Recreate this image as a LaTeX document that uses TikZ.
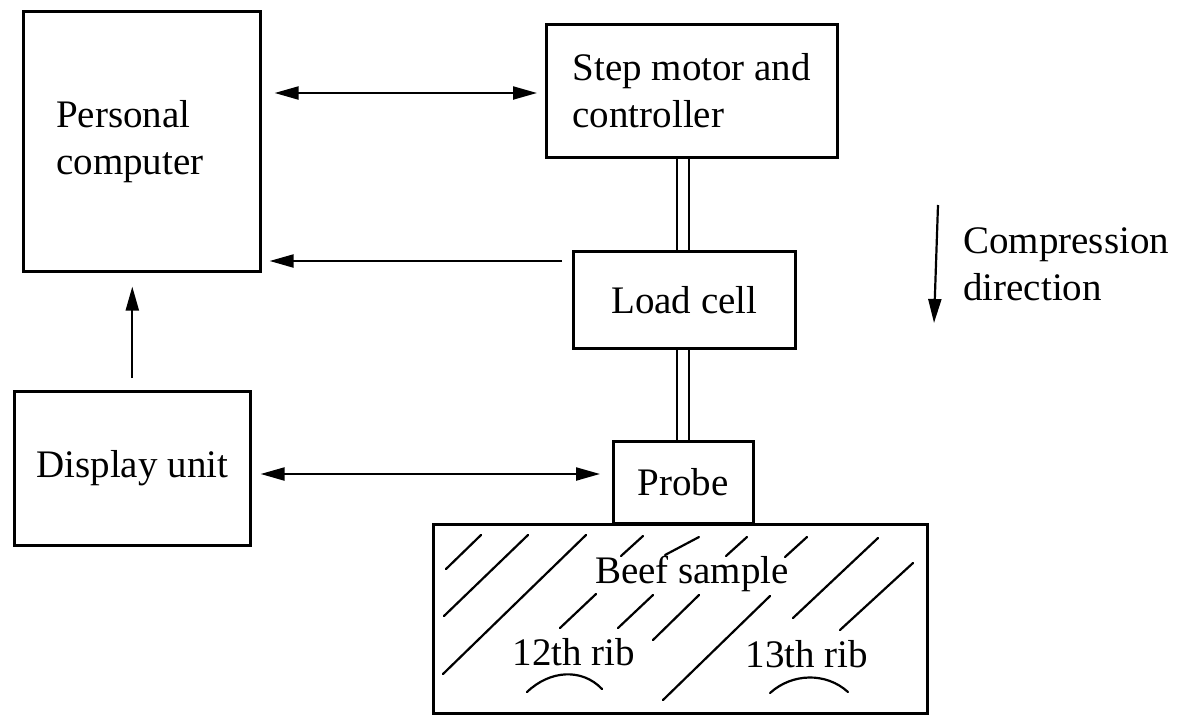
\documentclass[tikz,border=0pt]{standalone}
\usepackage{fontspec}
\setmainfont{Liberation Serif}
\usetikzlibrary{arrows.meta,calc}
\newcommand\diagfont{\fontsize{39}{47}\selectfont}
\begin{document}
\begin{tikzpicture}[x=1pt,y=-1pt,
  box/.style={draw, line width=2.6pt, inner sep=0pt, anchor=north west, font=\diagfont},
  lbl/.style={font=\diagfont, inner sep=0pt},
  arr/.style={line width=2.2pt, -{Triangle[length=24pt,width=13pt]}},
  dblarr/.style={line width=2.2pt, {Triangle[length=24pt,width=13pt]}-{Triangle[length=24pt,width=13pt]}},
  shaftline/.style={line width=2.2pt},
  hatch/.style={line width=2.2pt, line cap=round}]
\useasboundingbox (0,0) rectangle (1181,715);

% boxes
\node[box, minimum width=237pt, minimum height=260pt, text width=171pt, inner xsep=33pt, align=left] (pc) at (22,10) {Personal\\computer};
\node[box, minimum width=291pt, minimum height=133pt, align=left] (step) at (545,23) {Step motor and\\controller};
\node[box, minimum width=222pt, minimum height=97pt] (load) at (572,250) {Load cell};
\node[box, minimum width=236pt, minimum height=154pt] (disp) at (13,390) {Display unit};
\node[box, minimum width=140pt, minimum height=82pt] (probe) at (612,440) {Probe};
\node[box, minimum width=494pt, minimum height=189pt] (beef) at (432,523) {};

% labels inside beef sample
\node[lbl, anchor=base] (beeflbl) at (692,583) {Beef sample};
\node[lbl, anchor=base] (rib12) at (574,665) {12th rib};
\node[lbl, anchor=base] (rib13) at (807,667) {13th rib};

% compression direction
\node[lbl, anchor=north west, align=left] (comp) at (963,227) {Compression\\direction};
\coordinate (c1) at (938,205);
\coordinate (c2) at (934,323);
\draw[arr] (c1) -- (c2);

% helper heights
\coordinate (y1) at (0,93);
\coordinate (y2) at (0,261);
\coordinate (y3) at (0,474);

% connectors
\draw[dblarr, shorten <=13pt, shorten >=8pt] (pc.east |- y1) -- (step.west |- y1);
\draw[arr, shorten <=10pt, shorten >=8pt] (load.west |- y2) -- (pc.east |- y2);
\draw[arr, shorten <=12pt, shorten >=14pt] (disp.north) -- (disp.north |- pc.south);
\draw[dblarr, shorten <=9pt, shorten >=12pt] (disp.east |- y3) -- (probe.west |- y3);

% shafts
\foreach \dx in {-6,6} {
  \draw[shaftline] ($(step.south -| probe.north)+(\dx,0)$) -- ($(load.north -| probe.north)+(\dx,0)$);
  \draw[shaftline] ($(load.south -| probe.north)+(\dx,0)$) -- ($(probe.north)+(\dx,0)$);
}

% hatching
\draw[hatch] (446,569) -- (481,535);
\draw[hatch] (444,616) -- (528,535);
\draw[hatch] (443,674) -- (586,535);
\draw[hatch] (621,556) -- (643,536);
\draw[hatch] (665,555) -- (699,537);
\draw[hatch] (726,556) -- (747,537);
\draw[hatch] (785,557) -- (807,537);
\draw[hatch] (560,628) -- (596,594);
\draw[hatch] (618,628) -- (653,595);
\draw[hatch] (653,640) -- (699,595);
\draw[hatch] (663,700) -- (770,596);
\draw[hatch] (793,618) -- (878,538);
\draw[hatch] (840,630) -- (913,563);

% rib arcs
\draw[hatch] (527,692) .. controls (550,670) and (582,668) .. (602,689);
\draw[hatch] (770,693) .. controls (792,673) and (826,672) .. (848,692);
\end{tikzpicture}
\end{document}
